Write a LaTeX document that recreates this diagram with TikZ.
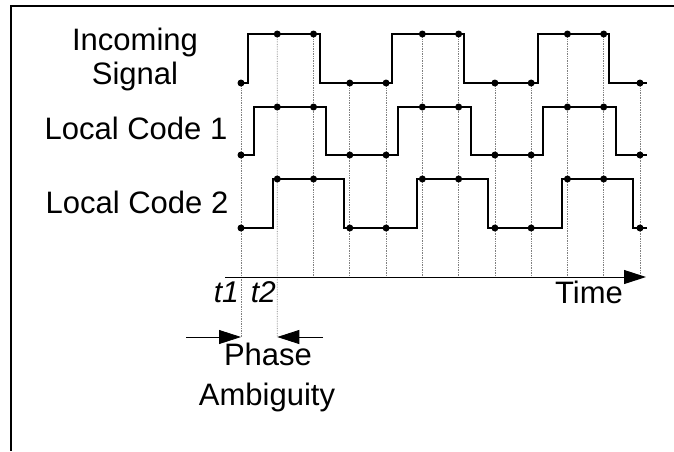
\documentclass[tikz,border=0pt]{standalone}
\usepackage{fontspec}
\setmainfont{Liberation Sans}
\usetikzlibrary{arrows.meta}
\begin{document}
\begin{tikzpicture}[x=1pt,y=-1pt,
  sig/.style={line width=1.8pt, line join=miter},
  grid/.style={gray, line width=0.7pt, densely dotted},
  dot/.style={circle, fill=black, inner sep=0pt, minimum size=7pt},
  lbl/.style={anchor=base, inner sep=0pt, font=\fontsize{31}{36}\selectfont},
  tlbl/.style={anchor=base east, inner sep=0pt, font=\fontsize{30}{34}\selectfont\itshape},
  tip/.style={-{Triangle[length=22pt,width=14pt]}}
]
\useasboundingbox (0,0) rectangle (674,451);
% frame
\draw[line width=2pt] (10,6) -- (674,6);
\draw[line width=2.4pt] (11,5) -- (11,451);

% signal labels
\node[lbl] (inc1) at (135,50) {Incoming};
\node[lbl] (inc2) at (135,84) {Signal};
\node[lbl] (lc1) at (136,139) {Local Code 1};
\node[lbl] (lc2) at (137,213) {Local Code 2};

% sampling grid: levels of the incoming signal at each instant
\foreach \i/\ytop in {0/83,1/34,2/34,3/83,4/83,5/34,6/34,7/83,8/83,9/34,10/34,11/83}{
  \pgfmathsetmacro{\xx}{241+36.27*\i}
  \coordinate (g\i) at (\xx,\ytop);
  \coordinate (a\i) at (\xx,277);
}
\coordinate (g0b) at (241,337);
\coordinate (g1b) at (277.3,337);
\draw[grid] (g0) -- (g0b);
\draw[grid] (g1) -- (g1b);
\foreach \i in {2,...,11}{ \draw[grid] (g\i) -- (a\i); }

% time axis
\coordinate (ax0) at (225,277);
\coordinate (ax1) at (646,277);
\draw[line width=1pt, tip] (ax0) -- (ax1);
\node[lbl] (time) at (589,303) {Time};
\node[tlbl] (t1) at (239,302) {t1};
\node[tlbl] (t2) at (276,302) {t2};

% waveforms
\draw[sig] (241,83) -- (248,83) -- (248,34) -- (320,34) -- (320,83) -- (392,83) -- (392,34)
  -- (464,34) -- (464,83) -- (538,83) -- (538,34) -- (609,34) -- (609,83) -- (647,83);
\draw[sig] (241,155) -- (254,155) -- (254,107) -- (326,107) -- (326,155) -- (398,155) -- (398,107)
  -- (471,107) -- (471,155) -- (543,155) -- (543,107) -- (616,107) -- (616,155) -- (647,155);
\draw[sig] (241,228) -- (273,228) -- (273,179) -- (344,179) -- (344,228) -- (417,228) -- (417,179)
  -- (488,179) -- (488,228) -- (562,228) -- (562,179) -- (633,179) -- (633,228) -- (647,228);

% sample dots
\foreach \i/\lv in {0/0,1/1,2/1,3/0,4/0,5/1,6/1,7/0,8/0,9/1,10/1,11/0}{
  \pgfmathsetmacro{\xx}{241+36.27*\i}
  \pgfmathsetmacro{\ya}{\lv==1 ? 34 : 83}
  \pgfmathsetmacro{\yb}{\lv==1 ? 107 : 155}
  \pgfmathsetmacro{\yc}{\lv==1 ? 179 : 228}
  \node[dot] (da\i) at (\xx,\ya) {};
  \node[dot] (db\i) at (\xx,\yb) {};
  \node[dot] (dc\i) at (\xx,\yc) {};
}

% phase ambiguity markers
\coordinate (pl) at (186,337);
\coordinate (pr) at (323,337);
\draw[line width=0.8pt, tip] (pl) -- (g0b);
\draw[line width=0.8pt, tip] (pr) -- (g1b);
\node[lbl] (ph) at (268,365) {Phase};
\node[lbl] (amb) at (267,405) {Ambiguity};
\end{tikzpicture}
\end{document}
